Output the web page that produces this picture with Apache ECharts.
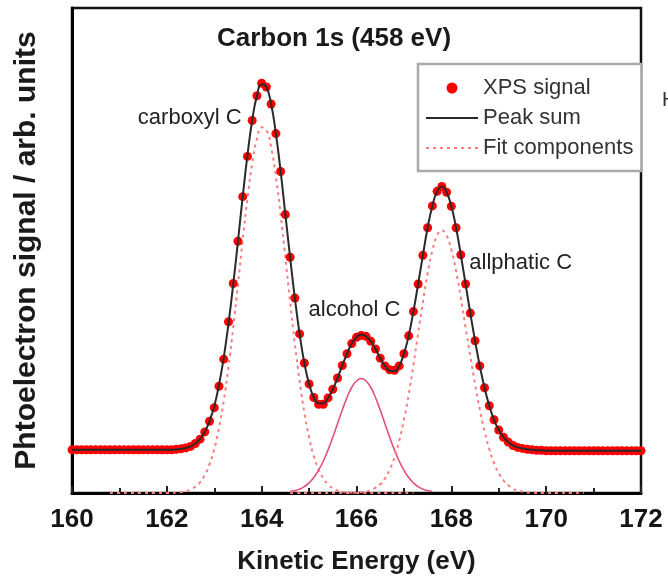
<!DOCTYPE html>
<html><head><meta charset="utf-8">
<script src="https://cdn.jsdelivr.net/npm/echarts/dist/echarts.min.js"></script>
<style>html,body{margin:0;padding:0;background:#fff}#c{width:668px;height:578px}</style>
</head><body><div id="c"></div>
<script>
const energy = [
160.0,160.1,160.2,160.3,160.4,160.5,160.6,160.7,160.8,160.9,
161.0,161.1,161.2,161.3,161.4,161.5,161.6,161.7,161.8,161.9,
162.0,162.1,162.2,162.3,162.4,162.5,162.6,162.7,162.8,162.9,
163.0,163.1,163.2,163.3,163.4,163.5,163.6,163.7,163.8,163.9,
164.0,164.1,164.2,164.3,164.4,164.5,164.6,164.7,164.8,164.9,
165.0,165.1,165.2,165.3,165.4,165.5,165.6,165.7,165.8,165.9,
166.0,166.1,166.2,166.3,166.4,166.5,166.6,166.7,166.8,166.9,
167.0,167.1,167.2,167.3,167.4,167.5,167.6,167.7,167.8,167.9,
168.0,168.1,168.2,168.3,168.4,168.5,168.6,168.7,168.8,168.9,
169.0,169.1,169.2,169.3,169.4,169.5,169.6,169.7,169.8,169.9,
170.0,170.1,170.2,170.3,170.4,170.5,170.6,170.7,170.8,170.9,
171.0,171.1,171.2,171.3,171.4,171.5,171.6,171.7,171.8,171.9,
172.0];

const xpsSignal = [
8.9,8.9,8.9,8.9,8.9,8.9,8.9,8.9,8.9,8.9,
8.9,8.9,8.9,8.9,8.9,8.9,8.9,8.9,8.9,8.9,
8.9,8.9,9.0,9.1,9.3,9.6,10.2,11.1,12.6,14.8,
17.6,22.0,27.6,35.3,43.2,51.9,61.1,69.4,76.8,81.9,
84.5,83.7,80.2,74.1,66.3,57.4,48.6,40.2,32.8,26.8,
22.5,19.7,18.3,18.3,19.6,21.4,23.7,26.3,28.7,30.8,
32.1,32.5,32.3,31.3,29.7,27.8,26.2,25.4,25.3,26.2,
28.7,32.4,37.4,43.1,49.0,54.7,59.2,62.2,63.2,62.0,
59.1,54.7,49.1,43.1,37.1,31.4,26.2,21.7,18.0,15.1,
13.0,11.5,10.5,9.8,9.4,9.2,9.0,8.9,8.8,8.8,
8.7,8.7,8.7,8.7,8.7,8.7,8.7,8.7,8.7,8.7,
8.7,8.7,8.7,8.7,8.7,8.7,8.7,8.7,8.7,8.7,
8.7];

const peakSum = [
8.9,8.9,8.9,8.9,8.9,8.9,8.9,8.9,8.9,8.9,
8.9,8.9,8.9,8.9,8.9,8.9,8.9,8.9,8.9,8.9,
8.9,8.9,9.0,9.1,9.3,9.6,10.2,11.1,12.6,14.8,
17.9,22.3,27.9,34.9,43.0,51.9,61.1,69.6,76.8,81.9,
84.3,83.7,80.2,74.1,66.3,57.4,48.6,40.2,32.8,26.8,
22.5,19.7,18.5,18.5,19.6,21.4,23.7,26.3,28.7,30.8,
32.1,32.7,32.3,31.3,29.7,27.8,26.2,25.2,25.1,26.2,
28.7,32.4,37.4,43.1,49.0,54.7,59.2,62.2,63.2,62.0,
59.1,54.7,49.1,43.1,37.1,31.4,26.2,21.7,18.0,15.1,
13.0,11.5,10.5,9.8,9.4,9.2,9.0,8.9,8.8,8.8,
8.7,8.7,8.7,8.7,8.7,8.7,8.7,8.7,8.7,8.7,
8.7,8.7,8.7,8.7,8.7,8.7,8.7,8.7,8.7,8.7,
8.7];

const carboxylStart = 160.8;
const carboxyl = [
0,0,
0,0,0,0,0,0,0,0,0,0,
0,0,0.1,0.2,0.4,0.7,1.3,2.2,3.7,5.9,
9.0,13.4,19.0,26.0,34.1,43.0,52.2,60.7,67.9,73.0,
75.4,74.8,71.3,65.2,57.4,48.5,39.4,30.8,23.1,16.6,
11.5,7.6,4.9,3.0,1.8,1.0,0.5,0.3,0.1,0.1,
0,0,0,0,0,0,0,0,0,0,
0,0,0];

const alcoholStart = 164.6;
const alcohol = [
0.3,0.5,0.8,1.3,
2.1,3.2,4.7,6.6,8.9,11.5,14.3,17.1,19.7,21.8,
23.1,23.6,23.1,21.8,19.7,17.1,14.3,11.5,8.9,6.6,
4.7,3.2,2.1,1.3,0.8,0.5,0.3];

const aliphaticStart = 164.6;
const aliphatic = [
0,0,0,0,
0,0,0,0,0,0,0,0,0,0,
0.1,0.2,0.3,0.6,1.1,1.8,3.0,4.8,7.3,10.7,
15.1,20.3,26.4,32.9,39.3,45.3,50.0,53.1,54.2,53.1,
50.2,45.8,40.2,34.2,28.2,22.5,17.3,12.8,9.1,6.2,
4.1,2.6,1.6,0.9,0.5,0.3,0.1,0.1,0,0,
0,0,0,0,0,0,0,0,0];

const xTicksMin = 160, xTicksMax = 172, xTickStep = 2;

const annotationText = ['carboxyl C', 'alcohol C', 'allphatic C'];
const annotationX = [163.58, 164.99, 168.38];
const annotationY = [77.3, 37.7, 47.4];
const annotationAlign = ['right', 'left', 'left'];

const FONT = '"Liberation Sans", Arial, Helvetica, sans-serif';

function pairs(startE, vals) {
  const s = energy.indexOf(startE);
  return vals.map((v, i) => [energy[s + i], v]);
}

const chart = echarts.init(document.getElementById('c'), null, {renderer: 'canvas'});
const fitStyle = {color: '#ff7c7c', width: 2, type: [3, 4]};

chart.setOption({
  animation: false,
  backgroundColor: '#fff',
  title: {
    text: 'Carbon 1s (458 eV)', left: 'center', top: 26, padding: 0,
    textStyle: {fontSize: 26, fontWeight: 'bold', color: '#1a1a1a', fontFamily: FONT}
  },
  legend: {
    orient: 'vertical', left: 418, top: 64,
    padding: [13, 8, 12, 7], itemGap: 8, itemWidth: 52, itemHeight: 11,
    borderColor: '#aaaaaa', borderWidth: 2.5, backgroundColor: '#fff',
    itemStyle: {opacity: 0},
    textStyle: {fontSize: 22, color: '#333', fontFamily: FONT},
    data: [
      {name: 'XPS signal', itemStyle: {opacity: 1, color: '#ff0000'}},
      {name: 'Peak sum'},
      {name: 'Fit components'}
    ]
  },
  grid: {left: 72, right: 27, top: 8, bottom: 85, show: true, borderColor: '#111', borderWidth: 2.5,
         backgroundColor: 'transparent', containLabel: false, outerBoundsMode: 'none'},
  xAxis: {
    type: 'value', min: xTicksMin, max: xTicksMax, interval: xTickStep,
    name: 'Kinetic Energy (eV)', nameLocation: 'middle', nameGap: 56,
    nameTextStyle: {fontSize: 26, fontWeight: 'bold', color: '#1a1a1a', fontFamily: FONT},
    axisLine: {show: true, lineStyle: {color: '#000', width: 3}},
    axisTick: {show: true, inside: true, length: 7, lineStyle: {color: '#222', width: 2}},
    minorTick: {show: true, splitNumber: 2, length: 5, lineStyle: {color: '#222', width: 2}},
    axisLabel: {fontSize: 26, fontWeight: 'bold', color: '#151515', margin: 14, fontFamily: FONT},
    splitLine: {show: false}, minorSplitLine: {show: false}
  },
  yAxis: {
    type: 'value', min: 0, max: 100,
    name: 'Phtoelectron signal / arb. units', nameLocation: 'middle', nameGap: 30,
    nameTextStyle: {fontSize: 30, fontWeight: 'bold', color: '#1a1a1a', fontFamily: FONT},
    axisLine: {show: true, lineStyle: {color: '#000', width: 3}},
    axisTick: {show: false}, axisLabel: {show: false}, splitLine: {show: false}
  },
  series: [
    {name: 'Fit components', type: 'line', data: pairs(carboxylStart, carboxyl), symbol: 'none', smooth: true,
     lineStyle: fitStyle, itemStyle: {color: '#ff7c7c'}, z: 2},
    {name: 'Fit components', type: 'line', data: pairs(alcoholStart, alcohol), symbol: 'none', smooth: true,
     lineStyle: {color: '#e2507a', width: 1.6, type: 'solid'}, itemStyle: {color: '#e2507a'}, z: 2},
    {name: 'Fit components', type: 'line', data: pairs(aliphaticStart, aliphatic), symbol: 'none', smooth: true,
     lineStyle: fitStyle, itemStyle: {color: '#ff7c7c'}, z: 2},
    {name: 'XPS signal', type: 'scatter', data: energy.map((e, i) => [e, xpsSignal[i]]),
     symbol: 'circle', symbolSize: 9, itemStyle: {color: '#ff0000', opacity: 1}, z: 3},
    {name: 'Peak sum', type: 'line', data: energy.map((e, i) => [e, peakSum[i]]), symbol: 'none', smooth: true,
     lineStyle: {color: '#2a2a2a', width: 2}, itemStyle: {color: '#2a2a2a'}, z: 4}
  ]
});

const graphics = annotationText.map((t, i) => {
  const p = chart.convertToPixel({gridIndex: 0}, [annotationX[i], annotationY[i]]);
  return {type: 'text', x: p[0], y: p[1], z: 10,
    style: {text: t, fontSize: 22, fontFamily: FONT, fill: '#222', align: annotationAlign[i], verticalAlign: 'middle'}};
});
graphics.push({type: 'text', x: 662, y: 100, style: {text: 'H', fontSize: 20, fontFamily: FONT, fill: '#333', align: 'left', verticalAlign: 'middle'}});
chart.setOption({graphic: graphics});
</script></body></html>
